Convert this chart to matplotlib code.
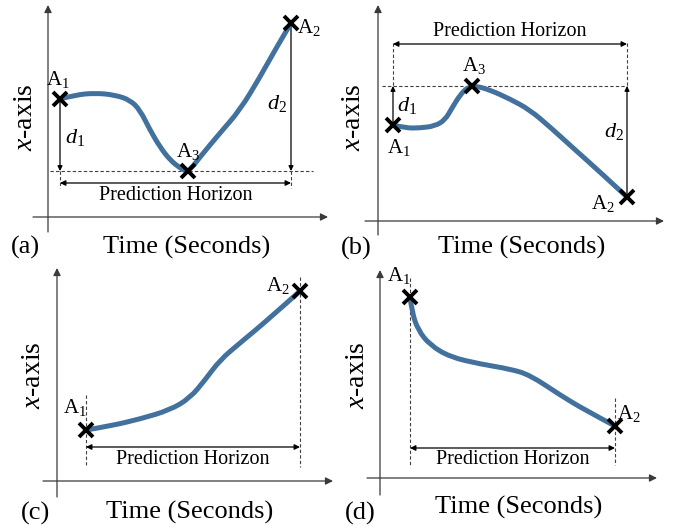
import numpy as np
import matplotlib
matplotlib.use("Agg")
import matplotlib.pyplot as plt
from matplotlib.path import Path
from matplotlib.patches import PathPatch

plt.rcParams['font.family'] = ['Liberation Serif', 'DejaVu Serif']
plt.rcParams['mathtext.fontset'] = 'custom'
plt.rcParams['mathtext.rm'] = 'Liberation Serif'
plt.rcParams['mathtext.it'] = 'Liberation Serif:italic'

# curve points for each panel (figure pixels, y down)
curve_a_x = [60, 75, 95, 115, 130, 140, 150, 160, 170, 180, 186, 190, 200, 220, 240, 260, 275, 291]
curve_a_y = [99, 95, 93, 95, 100, 110, 130, 147, 160, 168, 171, 170, 157, 133, 110, 77, 50, 23]
curve_b_x = [393, 405, 420, 435, 445, 452, 460, 468, 476, 490, 510, 530, 550, 572, 600, 627]
curve_b_y = [125, 128, 128, 126, 120, 108, 95, 87, 86, 90, 99, 110, 127, 147, 172, 197]
curve_c_x = [86, 110, 140, 170, 190, 205, 220, 240, 270, 300]
curve_c_y = [430, 426, 419, 410, 398, 380, 360, 343, 318, 291]
curve_d_x = [410, 412, 418, 430, 450, 480, 510, 530, 560, 585, 615]
curve_d_y = [297, 312, 330, 345, 357, 364, 369, 375, 395, 410, 426]

panel_names = ['(a)', '(b)', '(c)', '(d)']
curve_color = '#41719c'

fig = plt.figure(figsize=(6.84, 5.29), dpi=100)
ax = fig.add_axes([0, 0, 1, 1])
ax.set_xlim(0, 684)
ax.set_ylim(529, 0)
ax.axis('off')

def arrow(x0, y0, x1, y1, style='-|>', color='black', lw=0.9, ms=8):
    ax.annotate('', xy=(x1, y1), xytext=(x0, y0),
                arrowprops=dict(arrowstyle=style, color=color, lw=lw,
                                mutation_scale=ms, shrinkA=0, shrinkB=0))

def dashed(xs, ys):
    ax.plot(xs, ys, color='#404040', lw=0.8, dashes=(3, 2))

def axes_frame(x_axis, y_axis):
    # x_axis: (x0, x1, y), y_axis: (x, y0, y1)
    arrow(x_axis[0], x_axis[2], x_axis[1], x_axis[2], color='#3a3a3a', ms=11)
    arrow(y_axis[0], y_axis[2], y_axis[0], y_axis[1], color='#3a3a3a', ms=11)

def curve(xs, ys):
    # smooth quadratic path through the midpoints of the read points
    pts = list(zip(xs, ys))
    verts = [pts[0]]
    codes = [Path.MOVETO]
    for i in range(1, len(pts) - 1):
        if i < len(pts) - 2:
            end = ((pts[i][0] + pts[i + 1][0]) / 2, (pts[i][1] + pts[i + 1][1]) / 2)
        else:
            end = pts[i + 1]
        verts += [pts[i], end]
        codes += [Path.CURVE3, Path.CURVE3]
    ax.add_patch(PathPatch(Path(verts, codes), fill=False, edgecolor=curve_color,
                           lw=3.6, capstyle='round', joinstyle='round', zorder=3))

def mark(x, y):
    ax.plot(x, y, marker='x', ms=10, mew=2.8, color='black', zorder=4)

def label(x, y, txt, ha='center', size=15):
    ax.text(x, y, txt, ha=ha, va='center', fontsize=size, zorder=5)

def horizon(x0, x1, y, ty):
    arrow(x0, y, x1, y, style='<|-|>', ms=8)
    ax.text((x0 + x1) / 2, ty, 'Prediction Horizon', ha='center', va='center', fontsize=14.5)

def titles(xl, pl, tl):
    ax.text(xl[0], xl[1], '$x$-axis', rotation=90, ha='center', va='center', fontsize=20)
    ax.text(pl[0], pl[1], pl[2], ha='center', va='center', fontsize=19)
    ax.text(tl[0], tl[1], 'Time (Seconds)', ha='center', va='center', fontsize=19)

# ---- (a)
axes_frame((33, 328, 217), (48, 5, 232))
dashed([50, 313], [171, 171])
dashed([60, 60], [171, 188])
dashed([291, 291], [171, 188])
arrow(60, 99, 60, 171, ms=7)
arrow(291, 23, 291, 171, ms=7)
curve(curve_a_x, curve_a_y)
mark(curve_a_x[0], curve_a_y[0])
mark(188, 171)
mark(curve_a_x[-1], curve_a_y[-1])
horizon(60, 291, 183, 195)
label(58, 79, r'A$_1$')
label(188, 152, r'A$_3$')
label(297, 28, r'A$_2$', ha='left')
label(65, 137, r'$d_1$', ha='left', size=16)
label(287, 104, r'$d_2$', ha='right', size=16)
titles((25, 117), (25, 247, panel_names[0]), (187, 247))

# ---- (b)
axes_frame((365, 664, 221), (378, 5, 235))
dashed([382, 627], [86, 86])
dashed([393, 393], [43, 86])
dashed([627, 627], [43, 86])
arrow(393, 125, 393, 86, ms=7)
arrow(627, 197, 627, 86, ms=7)
curve(curve_b_x, curve_b_y)
mark(curve_b_x[0], curve_b_y[0])
mark(472, 86)
mark(curve_b_x[-1], curve_b_y[-1])
horizon(393, 627, 44, 31)
label(474, 66, r'A$_3$')
label(399, 148, r'A$_1$')
label(603, 203, r'A$_2$')
label(397, 105, r'$d_1$', ha='left', size=16)
label(624, 132, r'$d_2$', ha='right', size=16)
titles((354, 117), (356, 248, panel_names[1]), (522, 247))

# ---- (c)
axes_frame((43, 333, 481), (57, 268, 497))
dashed([86, 86], [395, 465])
dashed([300, 300], [277, 467])
curve(curve_c_x, curve_c_y)
mark(curve_c_x[0], curve_c_y[0])
mark(curve_c_x[-1], curve_c_y[-1])
horizon(86, 300, 447, 459)
label(75, 408, r'A$_1$')
label(278, 285, r'A$_2$')
titles((33, 375), (35, 513, panel_names[2]), (190, 512))

# ---- (d)
axes_frame((367, 657, 478), (380, 270, 495))
dashed([410, 410], [278, 465])
dashed([615, 615], [398, 465])
curve(curve_d_x, curve_d_y)
mark(curve_d_x[0], curve_d_y[0])
mark(curve_d_x[-1], curve_d_y[-1])
horizon(410, 615, 448, 460)
label(399, 276, r'A$_1$')
label(629, 413, r'A$_2$')
titles((357, 375), (360, 513, panel_names[3]), (519, 507))

fig.savefig('out.png', dpi=100)
